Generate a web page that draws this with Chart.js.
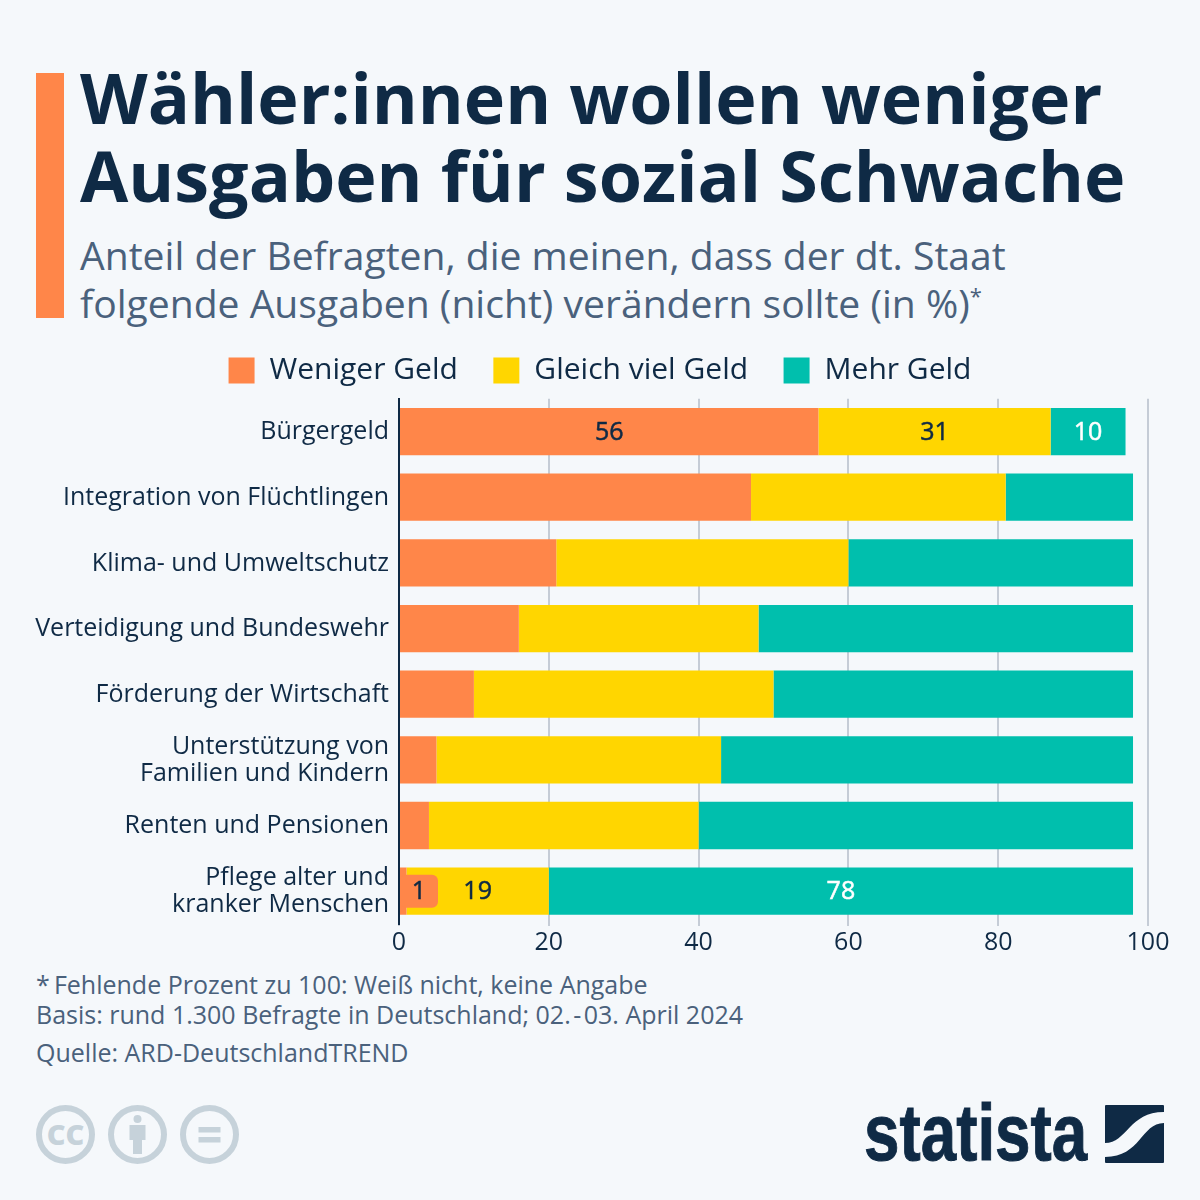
<!DOCTYPE html>
<html lang="de">
<head>
<meta charset="utf-8">
<title>Wähler:innen wollen weniger Ausgaben für sozial Schwache</title>
<script src="https://cdn.jsdelivr.net/npm/chart.js@4"></script>
<style>
  html, body { margin: 0; padding: 0; background: #f5f8fb; }
  #page { position: relative; width: 1200px; height: 1200px; overflow: hidden; font-family: "Open Sans", sans-serif; color: #0f2a45; }
  #page > * { position: absolute; }
  #accent { left: 36px; top: 73px; width: 28px; height: 245px; background: #ff8649; }
  h1 { left: 80px; top: 58px; margin: 0; font-size: 70px; line-height: 78px; font-weight: 700; white-space: nowrap; }
  h2 { left: 80px; top: 231px; margin: 0; font-size: 39.1px; line-height: 48px; font-weight: 400; color: #4a617c; white-space: nowrap; }
  h2 sup { font-size: 22px; line-height: 0; }
  #chart-wrap { left: 0; top: 320px; width: 1200px; height: 640px; }
  .note { left: 36px; font-size: 25px; line-height: 30px; color: #4a617c; white-space: nowrap; }
  #logo-text { left: 864px; top: 1083px; font-family: "Liberation Sans", sans-serif; font-weight: 700; font-size: 80px; line-height: 100px; transform: scaleX(0.797); transform-origin: left center; -webkit-text-stroke: 1px #0f2a45; }
</style>
</head>
<body>
<div id="page">
  <div id="accent"></div>
  <h1>Wähler:innen wollen weniger<br>Ausgaben für sozial Schwache</h1>
  <h2>Anteil der Befragten, die meinen, dass der dt. Staat<br>folgende Ausgaben (nicht) verändern sollte (in %)<sup>*</sup></h2>
  <div id="chart-wrap"><canvas id="chart" width="1200" height="640"></canvas></div>
  <div class="note" style="top:969px">*&#8201;Fehlende Prozent zu 100: Weiß nicht, keine Angabe<br>Basis: rund 1.300 Befragte in Deutschland; 02.&#8202;-&#8202;03. April 2024</div>
  <div class="note" style="top:1037px">Quelle: ARD-DeutschlandTREND</div>

  <svg style="left:36px;top:1105px" width="204" height="60" viewBox="0 0 204 60">
    <g fill="none" stroke="#c6d2da" stroke-width="6">
      <circle cx="29.5" cy="29.5" r="26.5"/><circle cx="101.5" cy="29.5" r="26.5"/><circle cx="173.5" cy="29.5" r="26.5"/>
    </g>
    <text x="29.5" y="40" text-anchor="middle" font-family="Open Sans" font-weight="800" font-size="29" fill="#c6d2da">CC</text>
    <g fill="#c6d2da">
      <circle cx="101.5" cy="14" r="4"/>
      <path d="M93.5 20h16v15h-3.5v14h-9v-14h-3.5z"/>
      <rect x="162.5" y="22" width="22" height="5.5"/><rect x="162.5" y="32" width="22" height="5.5"/>
    </g>
  </svg>
  <div id="logo-text">statista</div>
  <svg style="left:1105px;top:1105px" width="59" height="58" viewBox="0 0 59 58">
    <rect width="59" height="58" rx="1" fill="#0f2a45"/>
    <path d="M0 38C22 38 24 7 59 7V18C36 18 36 52 0 52Z" fill="#f5f8fb"/>
  </svg>
</div>

<script>
const categories = ['Bürgergeld', 'Integration von Flüchtlingen', 'Klima- und Umweltschutz', 'Verteidigung und Bundeswehr',
  'Förderung der Wirtschaft', ['Unterstützung von', 'Familien und Kindern'], 'Renten und Pensionen', ['Pflege alter und', 'kranker Menschen']];
const weniger = [56, 47, 21, 16, 10, 5, 4, 1];
const gleich = [31, 34, 39, 32, 40, 38, 36, 19];
const mehr = [10, 17, 38, 50, 48, 55, 58, 78];
const xTicks = [0, 20, 40, 60, 80, 100];
const labelledRows = [0, 7];

const navy = '#0f2a45';

// Werte nur in der ersten und letzten Zeile beschriften
const barLabels = {
  id: 'barLabels',
  afterInit(chart) {
    // fester Abstand Legende -> Plot
    const fit = chart.legend.fit;
    chart.legend.fit = function () { fit.call(this); this.height = 78.7; };
  },
  afterLayout(chart) {
    // Legende über die ganze Breite zentrieren, nicht nur über den Plot
    chart.legend.right += 52;
  },
  afterDatasetsDraw(chart) {
    const ctx = chart.ctx;
    ctx.save();
    ctx.font = '25px "Open Sans"';
    ctx.textAlign = 'center';
    ctx.textBaseline = 'middle';
    ctx.lineWidth = 0.5;
    chart.data.datasets.forEach((ds, i) => {
      const meta = chart.getDatasetMeta(i);
      labelledRows.forEach(row => {
        const bar = meta.data[row];
        let x = bar.x - (bar.x - bar.base) / 2;
        // zu schmaler Balken: Wert in eigener Box
        if (bar.x - bar.base < 30) {
          const w = 38, h = 33;
          ctx.fillStyle = ds.backgroundColor;
          ctx.beginPath();
          ctx.roundRect(bar.base, bar.y - h / 2, w, h, 6);
          ctx.fill();
          x = bar.base + w / 2;
        }
        ctx.fillStyle = ds.labelColor;
        ctx.strokeStyle = ds.labelColor;
        ctx.fillText(String(ds.data[row]), x, bar.y + 1);
        ctx.strokeText(String(ds.data[row]), x, bar.y + 1);
      });
    });
    ctx.restore();
  }
};

new Chart(document.getElementById('chart'), {
  type: 'bar',
  plugins: [barLabels],
  data: {
    labels: categories,
    datasets: [
      { label: 'Weniger Geld', data: weniger, backgroundColor: '#ff8649', labelColor: navy },
      { label: 'Gleich viel Geld', data: gleich, backgroundColor: '#ffd600', labelColor: navy },
      { label: 'Mehr Geld', data: mehr, backgroundColor: '#00bfad', labelColor: '#ffffff' }
    ]
  },
  options: {
    indexAxis: 'y',
    responsive: false,
    animation: false,
    layout: { padding: { top: 0, right: 52, left: 0, bottom: 0 } },
    datasets: { bar: { categoryPercentage: 1, barPercentage: 0.72, borderWidth: 0 } },
    plugins: {
      tooltip: { enabled: false },
      legend: {
        position: 'top',
        labels: { boxWidth: 26, boxHeight: 26, padding: 35.5, color: navy, font: { family: '"Open Sans"', size: 30 } }
      }
    },
    scales: {
      x: {
        stacked: true,
        min: 0,
        max: 100,
        afterBuildTicks(axis) { axis.ticks = xTicks.map(value => ({ value })); },
        grid: { color: '#c5ccd6', lineWidth: 2, tickLength: 2 },
        border: { display: false },
        ticks: { color: navy, padding: 2, maxRotation: 0, font: { family: '"Open Sans"', size: 25 } }
      },
      y: {
        stacked: true,
        afterFit(axis) { axis.width = 399; },
        grid: { display: false, drawTicks: false },
        border: { display: true, color: navy, width: 2, z: 1 },
        ticks: { color: navy, padding: 10, autoSkip: false, labelOffset: 0.7, font: { family: '"Open Sans"', size: 25, lineHeight: 1.08 } }
      }
    }
  }
});
</script>
</body>
</html>
